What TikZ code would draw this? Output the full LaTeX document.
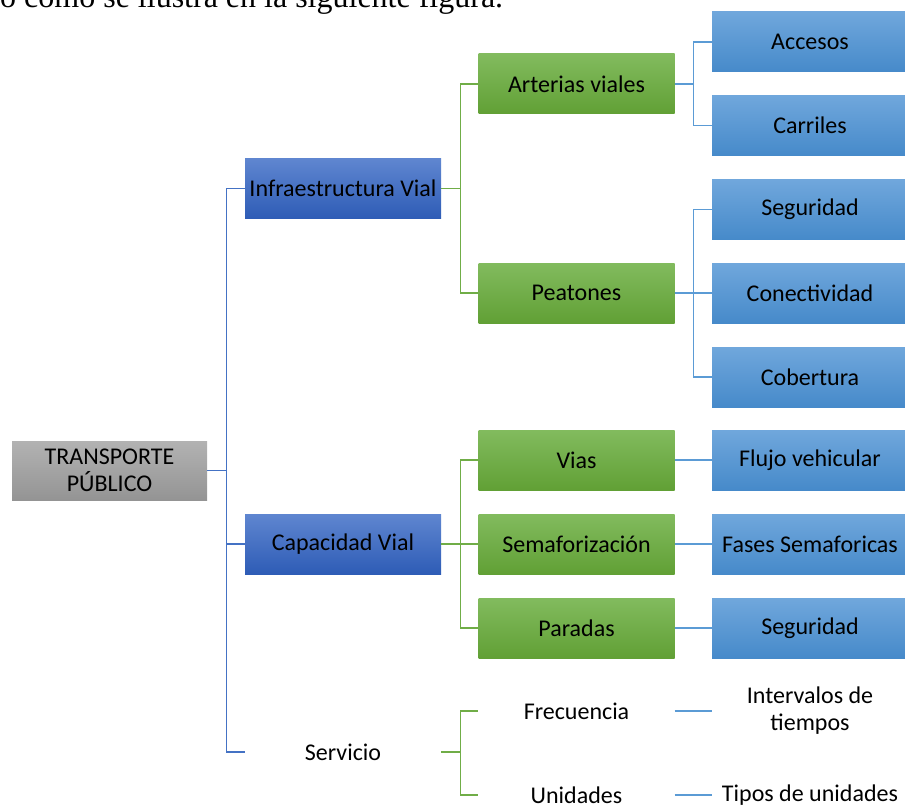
\documentclass[tikz,border=0pt]{standalone}
\usepackage{fontspec}
\setmainfont{Carlito}
\newfontfamily\serifft{Liberation Serif}
\definecolor{lineA}{HTML}{4472C4}
\definecolor{lineB}{HTML}{70AD47}
\definecolor{lineC}{HTML}{5B9BD5}
\begin{document}
\begin{tikzpicture}[x=1pt,y=-1pt,
  box/.style={minimum width=196pt,minimum height=60pt,inner sep=0pt,align=center,
     font=\fontsize{24}{27}\selectfont},
  bluebox/.style={box,top color=blueT,bottom color=blueB},
  greenbox/.style={box,top color=greenT,bottom color=greenB},
  lbbox/.style={box,top color=lbT,bottom color=lbB},
  plain/.style={box},
  la/.style={draw=lineA,line width=1.4pt},
  lb/.style={draw=lineB,line width=1.4pt},
  lc/.style={draw=lineC,line width=1.4pt}]
\definecolor{blueT}{HTML}{5F86D0}
\definecolor{blueB}{HTML}{2E5CB6}
\definecolor{greenT}{HTML}{82BB5E}
\definecolor{greenB}{HTML}{61A035}
\definecolor{lbT}{HTML}{70A7DC}
\definecolor{lbB}{HTML}{468ACA}
\colorlet{grayT}{black!30}
\colorlet{grayB}{black!42}
\useasboundingbox (0,0) rectangle (905,805);
\clip (0,0) rectangle (905,805);
\node[anchor=base west,inner sep=0pt,font=\serifft\fontsize{32}{36}\selectfont] (cap0) at (0,7.5) {o como se ilustra en la siguiente figura.};
% level 0
\node[box,top color=grayT,bottom color=grayB,minimum width=195pt,minimum height=59pt] (tp) at (109.5,470.5) {TRANSPORTE\\PÚBLICO};
% level 1
\node[bluebox] (infra) at (343,188.5) {Infraestructura Vial};
\node[bluebox] (capv) at (343,544) {Capacidad Vial};
\node[plain] (serv) at (343,752) {Servicio};
% level 2
\node[greenbox] (art) at (576.5,84) {Arterias viales};
\node[greenbox] (pea) at (576.5,293) {Peatones};
\node[greenbox] (vias) at (576.5,460) {Vias};
\node[greenbox] (sema) at (576.5,544) {Semaforización};
\node[greenbox] (para) at (576.5,628) {Paradas};
\node[plain] (frec) at (576.5,711) {Frecuencia};
\node[plain] (unid) at (576.5,795) {Unidades};
% level 3
\node[lbbox] (acc) at (810,42) {Accesos};
\node[lbbox] (carr) at (810,125.5) {Carriles};
\node[lbbox] (seg1) at (810,209.5) {Seguridad};
\node[lbbox] (cone) at (810,293) {Conectividad};
\node[lbbox] (cobe) at (810,377) {Cobertura};
\node[lbbox] (fluj) at (810,460) {Flujo vehicular};
\node[lbbox] (fase) at (810,544) {Fases Semaforicas};
\node[lbbox] (seg2) at (810,628) {Seguridad};
\node[plain] (inter) at (810,711) {Intervalos de\\tiempos};
\node[plain] (tipos) at (810,795) {Tipos de unidades};
% connectors level 1
\foreach \t in {infra,capv,serv}
  \draw[la] (tp.east) -- ++(19,0) |- (\t.west);
% level 2
\foreach \t in {art,pea}
  \draw[lb] (infra.east) -- ++(19,0) |- (\t.west);
\foreach \t in {vias,sema,para}
  \draw[lb] (capv.east) -- ++(19,0) |- (\t.west);
\foreach \t in {frec,unid}
  \draw[lb] (serv.east) -- ++(19,0) |- (\t.west);
% level 3
\foreach \t in {acc,carr}
  \draw[lc] (art.east) -- ++(19,0) |- (\t.west);
\foreach \t in {seg1,cone,cobe}
  \draw[lc] (pea.east) -- ++(19,0) |- (\t.west);
\draw[lc] (vias.east) -- (fluj.west);
\draw[lc] (sema.east) -- (fase.west);
\draw[lc] (para.east) -- (seg2.west);
\draw[lc] (frec.east) -- (inter.west);
\draw[lc] (unid.east) -- (tipos.west);
\end{tikzpicture}
\end{document}
